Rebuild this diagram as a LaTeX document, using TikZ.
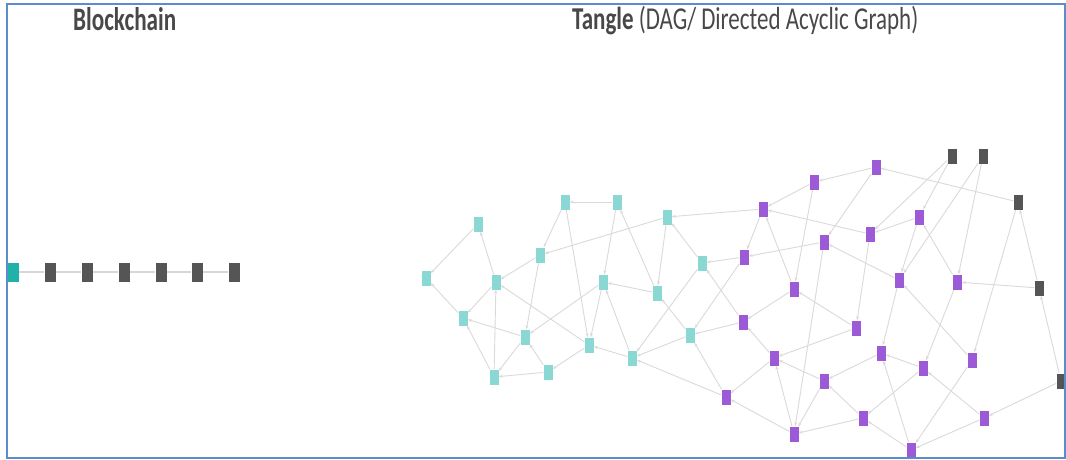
\documentclass[tikz,border=0pt]{standalone}
\usepackage{fontspec}
\setmainfont{Carlito}
\usetikzlibrary{arrows.meta,backgrounds}

\definecolor{frameblue}{RGB}{91,141,205}
\definecolor{titlegray}{RGB}{72,72,72}
\definecolor{tealtx}{RGB}{138,216,211}
\definecolor{tealgen}{RGB}{32,178,170}
\definecolor{purpletx}{RGB}{156,90,214}
\definecolor{tipgray}{RGB}{85,85,85}
\definecolor{edgegray}{RGB}{218,218,218}
\definecolor{chaingray}{RGB}{215,215,215}

\begin{document}
\begin{tikzpicture}[x=1pt,y=-1pt,
  tx/.style={rectangle,inner sep=0pt,minimum width=9pt,minimum height=15pt,draw=none},
  teal/.style={tx,fill=tealtx},
  purp/.style={tx,fill=purpletx},
  tip/.style={tx,fill=tipgray},
  blk/.style={rectangle,inner sep=0pt,minimum width=11pt,minimum height=19pt,fill=tipgray},
  genblk/.style={blk,minimum width=12pt,fill=tealgen},
  link/.style={draw=edgegray,line width=0.9pt,-{Stealth[length=4pt,width=3pt]}},
  chainline/.style={draw=chaingray,line width=1.3pt},
  title/.style={anchor=base west,inner sep=0pt,text=titlegray}]

\useasboundingbox (0,0) rectangle (1066,460);

% headings
\node[title] (hbc) at (73,30.7) {\resizebox{103pt}{23pt}{\bfseries Blockchain}};
\node[title] (htg) at (572,30) {\resizebox{346pt}{23.3pt}{\textbf{Tangle} (DAG/ Directed Acyclic Graph)}};

% blockchain
\node[genblk] (B0) at (13,272) {};
\foreach \i/\x in {1/50,2/87,3/124,4/161,5/197,6/234}
  \node[blk] (B\i) at (\x,272) {};

% tangle: confirmed transactions
\node[teal] (T1) at (426,278) {};
\node[teal] (T2) at (478,224) {};
\node[teal] (T3) at (496,282) {};
\node[teal] (T4) at (463,318) {};
\node[teal] (T5) at (525,337) {};
\node[teal] (T6) at (494,377) {};
\node[teal] (T7) at (548,372) {};
\node[teal] (T8) at (540,255) {};
\node[teal] (T9) at (565,202) {};
\node[teal] (T10) at (617,202) {};
\node[teal] (T11) at (667,217) {};
\node[teal] (T12) at (603,282) {};
\node[teal] (T13) at (589,345) {};
\node[teal] (T14) at (657,293) {};
\node[teal] (T15) at (702,263) {};
\node[teal] (T16) at (690,335) {};
\node[teal] (T17) at (632,358) {};

% tangle: unconfirmed transactions
\node[purp] (P1) at (876,167) {};
\node[purp] (P2) at (814,182) {};
\node[purp] (P3) at (763,209) {};
\node[purp] (P4) at (744,257) {};
\node[purp] (P5) at (824,242) {};
\node[purp] (P6) at (870,234) {};
\node[purp] (P7) at (919,217) {};
\node[purp] (P8) at (794,289) {};
\node[purp] (P9) at (899,280) {};
\node[purp] (P10) at (957,282) {};
\node[purp] (P11) at (743,322) {};
\node[purp] (P12) at (856,328) {};
\node[purp] (P13) at (881,353) {};
\node[purp] (P14) at (774,358) {};
\node[purp] (P15) at (923,368) {};
\node[purp] (P16) at (972,360) {};
\node[purp] (P17) at (824,381) {};
\node[purp] (P18) at (726,397) {};
\node[purp] (P19) at (863,418) {};
\node[purp] (P20) at (984,418) {};
\node[purp] (P21) at (794,434) {};
\node[purp] (P22) at (911,450) {};

% tangle: tips
\node[tip] (G1) at (952,156) {};
\node[tip] (G2) at (983,156) {};
\node[tip] (G3) at (1018,202) {};
\node[tip] (G4) at (1039,288) {};
\node[tip] (G5) at (1061,381) {};

\begin{pgfonlayer}{background}
  \fill[white] (0,0) rectangle (1066,460);
  \draw[chainline] (B0) -- (B1) -- (B2) -- (B3) -- (B4) -- (B5) -- (B6);
  \foreach \a/\b in {
    T2/T1, T3/T2, T4/T1, T3/T4, T5/T4, T6/T4, T6/T3, T5/T6, T7/T6, T7/T5,
    T8/T3, T8/T5, T9/T8, T11/T8, T10/T9, T9/T13, T13/T3, T12/T5, T10/T12,
    T12/T13, T14/T12, T14/T10, T11/T14, T17/T12, T17/T13, T15/T11, T15/T17,
    T16/T17, T16/T14, T13/T7,
    P11/T15, P11/T16, P18/T16, P18/T17, P4/T16, P4/T15, P3/T11,
    P3/P4, P2/P3, P1/P2, P2/P8, P8/P3, P6/P3, P7/P6, P7/P9, P10/P7,
    P5/P4, P5/P21, P1/P5, P9/P5, P6/P12, P8/P11, P12/P8, P12/P14, P14/P11,
    P9/P13, P16/P9, P15/P13, P10/P15, P13/P17, P17/P14, P14/P18, P21/P14,
    P21/P18, P17/P21, P19/P17, P19/P21, P15/P19, P22/P19, P22/P13, P16/P22,
    P20/P22, P20/P15,
    G3/P1, G1/P6, G1/P7, G2/P9, G2/P10, G4/G3, G4/P10, G3/P16, G5/G4, G5/P20}
    \draw[link] (\a) -- (\b);
\end{pgfonlayer}

% frame
\draw[frameblue,line width=1.5pt] (7,4) rectangle (1065,458);
\end{tikzpicture}
\end{document}
